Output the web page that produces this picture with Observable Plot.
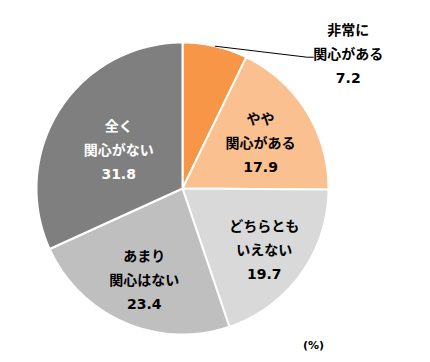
<!DOCTYPE html>
<html><head><meta charset="utf-8">
<script src="https://cdn.jsdelivr.net/npm/d3@7"></script>
<script src="https://cdn.jsdelivr.net/npm/@observablehq/plot@0.6"></script>
<style>
html,body{margin:0;padding:0;background:#fff;}
</style>
</head><body><div id="chart"></div>
<script>
const categories = ["非常に関心がある","やや関心がある","どちらともいえない","あまり関心はない","全く関心がない"];
const labelLines = ["非常に\n関心がある","やや\n関心がある","どちらとも\nいえない","あまり\n関心はない","全く\n関心がない"];
const values = [7.2, 17.9, 19.7, 23.4, 31.8];
const unitLabel = "(%)";

// styling / layout (not data)
const colors = ["#F79646","#FAC090","#D9D9D9","#BFBFBF","#7F7F7F"];
const textColors = ["#000","#000","#000","#000","#fff"];
const labelRadius = [null, 0.63, 0.69, 0.66, 0.52];
const W = 430, H = 362, R = 146, CX = 182, CY = 188;

const total = d3.sum(values);
let acc = 0;
const slices = values.map((v, i) => {
  const a0 = acc / total * 2 * Math.PI;
  acc += v;
  const a1 = acc / total * 2 * Math.PI;
  return {key: categories[i], i, v, a0, a1, mid: (a0 + a1) / 2};
});
const polar = (a, r) => ({x: r * Math.sin(a), y: r * Math.cos(a)});

// polygon outlines for each slice (center + arc)
const poly = [];
for (const s of slices) {
  poly.push({key: s.key, ...polar(0, 0)});
  const n = Math.max(2, Math.ceil((s.a1 - s.a0) / (Math.PI / 180)));
  for (let k = 0; k <= n; k++) poly.push({key: s.key, ...polar(s.a0 + (s.a1 - s.a0) * k / n, 1)});
  poly.push({key: s.key, ...polar(0, 0)});
}

const inside = slices.filter(s => labelRadius[s.i] != null).map(s => ({
  ...polar(s.mid, labelRadius[s.i]),
  text: labelLines[s.i] + "\n" + values[s.i].toFixed(1),
  color: textColors[s.i]
}));

const outer = slices[0];
const p0 = polar(outer.mid, 1);
const leader = [
  {x: p0.x, y: p0.y},
  {x: p0.x + 92 / R, y: p0.y - 11 / R},
  {x: p0.x + 98 / R, y: p0.y - 11 / R}
];
const outerLabel = [{x: p0.x, y: p0.y, text: labelLines[0] + "\n" + values[0].toFixed(1)}];

const font = "'DejaVu Sans','Noto Sans CJK JP',sans-serif";

const plot = Plot.plot({
  width: W, height: H,
  margin: 0,
  x: {domain: [-CX / R, (W - CX) / R], axis: null},
  y: {domain: [-(H - CY) / R, CY / R], axis: null},
  color: {domain: categories, range: colors},
  style: {fontFamily: font, background: "#fff"},
  marks: [
    Plot.line(poly, {x: "x", y: "y", z: "key", fill: "key", stroke: "#fff", strokeWidth: 2, strokeLinejoin: "round", curve: "linear"}),
    Plot.line(leader, {x: "x", y: "y", stroke: "#000", strokeWidth: 1}),
    Plot.text(inside, {x: "x", y: "y", text: "text", fill: "color", fontSize: 14, fontWeight: "bold", lineHeight: 1.72, fontFamily: font}),
    Plot.text(outerLabel, {x: "x", y: "y", text: "text", dx: 133, dy: 5, fill: "#000", fontSize: 14, fontWeight: "bold", lineHeight: 1.72, fontFamily: font}),
    Plot.text([unitLabel], {frameAnchor: "top-left", dx: 313, dy: 341, textAnchor: "middle", text: d => d, fontSize: 11, fontWeight: "bold", fill: "#000", fontFamily: font})
  ]
});
document.getElementById("chart").appendChild(plot);
</script>
</body></html>
